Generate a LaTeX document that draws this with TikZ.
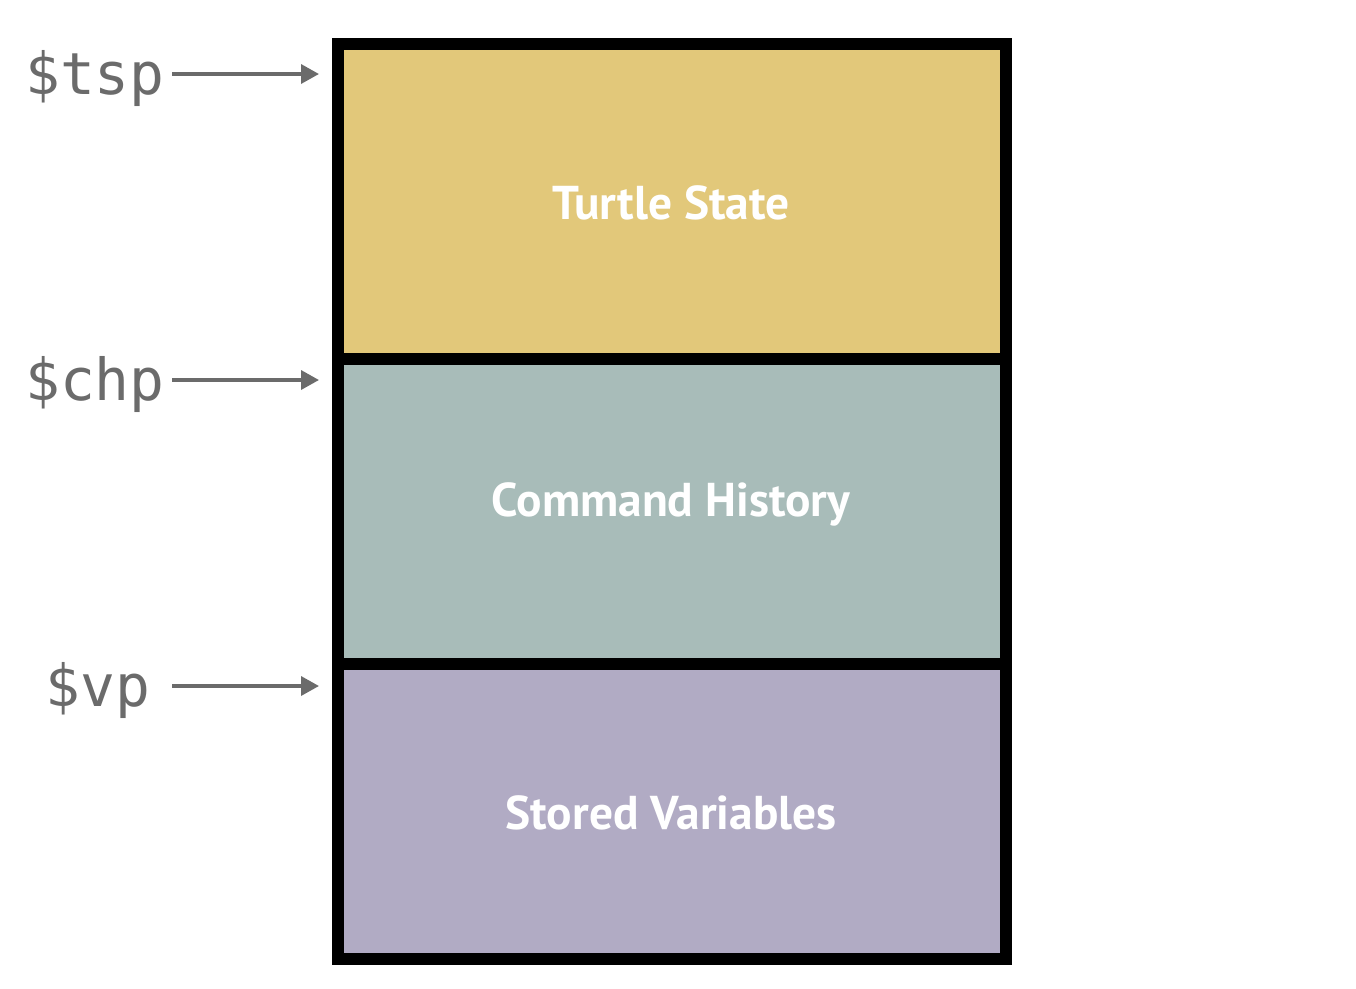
\documentclass[tikz,border=0pt]{standalone}
\usepackage{fontspec}
\setmainfont{PT Sans}
\newfontfamily\labelfont{DejaVu Sans Mono}
\usetikzlibrary{arrows.meta}

\definecolor{turtlefill}{HTML}{E2C87A}
\definecolor{historyfill}{HTML}{A8BCB9}
\definecolor{varsfill}{HTML}{B1ABC4}
\definecolor{pointergray}{HTML}{6B6B6B}

\tikzset{
  ptrlabel/.style={text=pointergray, font=\labelfont\fontsize{33}{38}\selectfont, inner sep=0pt, anchor=base},
  ptrarrow/.style={draw=pointergray, line width=0.07cm, -{Triangle[length=0.36cm,width=0.38cm]}},
  paneltext/.style={text=white, font=\bfseries\fontsize{27}{32}\selectfont, inner sep=0pt}
}

\begin{document}
\begin{tikzpicture}[x=0.02cm,y=-0.02cm]

  \useasboundingbox (0,0) rectangle (1356,988);

  % memory block
  \fill [black] (332,38) rectangle (1012,965);
  \fill [turtlefill] (344,50) rectangle (1000,353);
  \fill [historyfill] (344,365) rectangle (1000,658);
  \fill [varsfill] (344,670) rectangle (1000,953);

  \node [paneltext] (turtle) at (671,203) {Turtle State};
  \node [paneltext] (history) at (671,504) {Command History};
  \node [paneltext] (vars) at (671,813) {Stored Variables};

  % pointers
  \node [ptrlabel] (tsp) at (95,94) {\$tsp};
  \node [ptrlabel] (chp) at (95,400) {\$chp};
  \node [ptrlabel] (vp) at (98,706) {\$vp};

  \coordinate (tspstart) at (172,74);
  \coordinate (chpstart) at (172,380);
  \coordinate (vpstart) at (172,686);
  \coordinate (tspend) at (319,74);
  \coordinate (chpend) at (319,380);
  \coordinate (vpend) at (319,686);

  \draw [ptrarrow] (tspstart) -- (tspend);
  \draw [ptrarrow] (chpstart) -- (chpend);
  \draw [ptrarrow] (vpstart) -- (vpend);

\end{tikzpicture}
\end{document}
